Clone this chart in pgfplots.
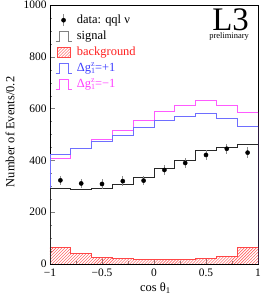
\documentclass[border=0pt]{standalone}
\usepackage{fontspec}
\setmainfont{Liberation Serif}
\usepackage{pgfplots}
\pgfplotsset{compat=1.18}
\usetikzlibrary{patterns}
\definecolor{sigc}{RGB}{40,40,40}
\definecolor{bluec}{RGB}{110,110,255}
\definecolor{magc}{RGB}{255,90,255}
\definecolor{redc}{RGB}{255,70,70}
\definecolor{bluet}{RGB}{60,60,255}
\definecolor{magt}{RGB}{255,60,255}
\definecolor{redt}{RGB}{255,30,30}
\newcommand\dg{Δg\makebox[0pt][l]{\raisebox{0.8ex}{\fontsize{8}{8}\selectfont z}}\raisebox{-0.4ex}{\fontsize{8}{8}\selectfont 1}}
\newcommand\histicon[1]{\draw[#1, line width=0.7bp] (0bp,-5bp) -- (3.5bp,-5bp) -- (3.5bp,5bp) -- (12.5bp,5bp) -- (12.5bp,-5bp) -- (16bp,-5bp);}
\begin{document}
\begin{tikzpicture}
\begin{axis}[
  scale only axis, width=208bp, height=259bp,
  xmin=-1, xmax=1, ymin=0, ymax=1000,
  xtick={-1,-0.5,0,0.5,1},
  xticklabels={−1,−0.5,0,0.5,1},
  ytick={0,200,400,600,800,1000},
  minor x tick num=1, minor y tick num=3,
  tick pos=left, tick align=inside,
  major tick length=5bp, minor tick length=2.5bp,
  /pgf/number format/assume math mode=true,
  /pgf/number format/1000 sep={},
  ticklabel style={font=\fontsize{11.5}{12}\selectfont},
  xticklabel style={yshift=-1bp},
  ylabel={Number of Events/0.2},
  xlabel={cos θ\textsubscript{1}},
  label style={font=\fontsize{12.5}{13}\selectfont},
  ylabel style={at={(axis description cs:-0.192,0.51)}, anchor=center},
  xlabel style={at={(axis description cs:0.507,-0.06)}, anchor=north},
  axis line style={line width=0.6bp},
  legend style={draw=none, fill=none, at={(axis description cs:0,1)}, anchor=north west,
    xshift=5bp, yshift=-7bp,
    font=\fontsize{12.5}{13}\selectfont, row sep=0pt, column sep=3bp, inner sep=0pt,
    nodes={text height=9bp, text depth=3bp, inner ysep=2bp, inner xsep=2bp}},
  legend cell align=left,
]
% background
\addplot[forget plot, const plot, draw=redc, line width=0.6bp, pattern=north east lines, pattern color=redc]
 coordinates {(-1,0) (-1,64) (-0.8,42) (-0.6,26) (-0.4,21) (-0.2,17) (0,17) (0.2,17) (0.4,22) (0.6,28) (0.8,64) (1,64) (1,0)} \closedcycle;
% Delta g = -1 (magenta)
\addplot[forget plot, const plot, draw=magc, line width=0.7bp]
 coordinates {(-1,0) (-1,407) (-0.8,447) (-0.6,482) (-0.4,516) (-0.2,555) (0,588) (0.2,614) (0.4,632) (0.6,614) (0.8,586) (1,586) (1,0)};
% Delta g = +1 (blue)
\addplot[forget plot, const plot, draw=bluec, line width=0.7bp]
 coordinates {(-1,0) (-1,425) (-0.8,447) (-0.6,474) (-0.4,498) (-0.2,528) (0,556) (0.2,571) (0.4,582) (0.6,562) (0.8,530) (1,530) (1,0)};
% signal
\addplot[forget plot, const plot, draw=sigc, line width=0.8bp]
 coordinates {(-1,0) (-1,291) (-0.8,288) (-0.6,290) (-0.4,308) (-0.2,335) (0,369) (0.2,401) (0.4,437) (0.6,450) (0.8,463) (1,463) (1,0)};
% data
\addplot[forget plot, only marks, mark=*, mark size=2.1bp, black,
  error bars/.cd, y dir=both, y explicit, error mark=none,
  error bar style={black!45, line width=0.8bp}]
 coordinates {(-0.9,323) +- (0,18) (-0.7,311) +- (0,18) (-0.5,309) +- (0,18) (-0.3,320) +- (0,18)
   (-0.1,322) +- (0,18) (0.1,363) +- (0,19) (0.3,390) +- (0,19) (0.5,421) +- (0,20)
   (0.7,445) +- (0,20) (0.9,430) +- (0,20)};
% legend entries (images only)
\addlegendimage{legend image code/.code={\draw[black!45, line width=0.8bp] (8bp,-6bp) -- (8bp,6bp); \fill[black] (8bp,0) circle (2.1bp);}}
\addlegendentry{data: qql ν}
\addlegendimage{legend image code/.code={\histicon{black!50}}}
\addlegendentry{signal}
\addlegendimage{legend image code/.code={\draw[redc, line width=0.6bp, pattern=north east lines, pattern color=redc] (1.5bp,-5bp) rectangle (14.5bp,5bp);}}
\addlegendentry{\textcolor{redt}{background}}
\addlegendimage{legend image code/.code={\histicon{bluec}}}
\addlegendentry{\textcolor{bluet}{\dg=+1}}
\addlegendimage{legend image code/.code={\histicon{magc}}}
\addlegendentry{\textcolor{magt}{\dg=−1}}
\node[anchor=north east, inner sep=0pt, font=\fontsize{33}{33}\selectfont] (L3) at (axis description cs:0.957,0.988) {L3};
\node[anchor=north east, inner sep=0pt, font=\fontsize{8.5}{9}\selectfont] at ([yshift=-2bp]L3.south east) {preliminary};
\end{axis}
\pgfresetboundingbox
\path ([shift={(-50bp,-34bp)}]current axis.south west) rectangle ([shift={(4bp,5bp)}]current axis.north east);
\end{tikzpicture}
\end{document}
